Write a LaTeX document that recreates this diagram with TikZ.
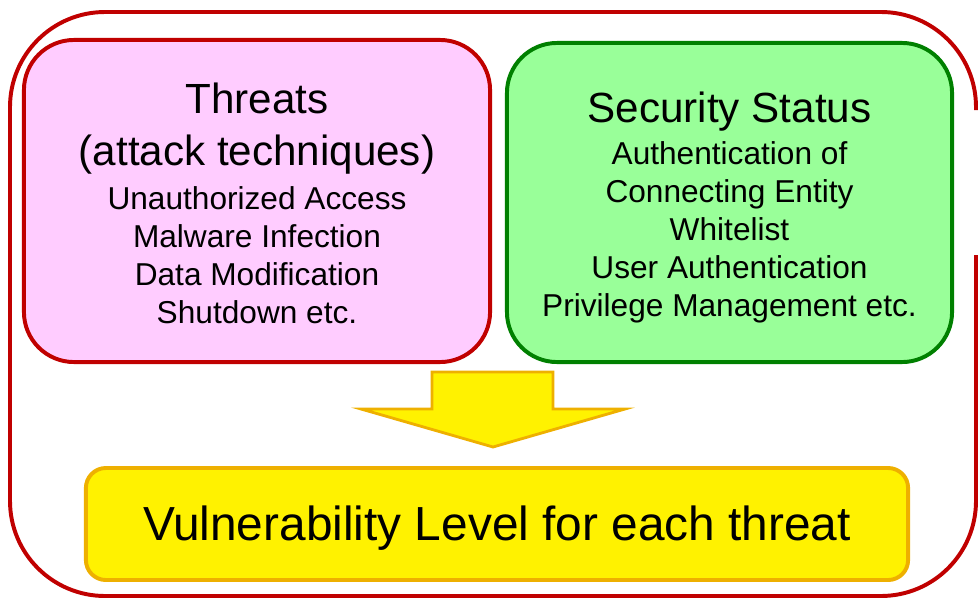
\documentclass[tikz,border=0pt]{standalone}
\usepackage{fontspec}
\setmainfont{Liberation Sans}
\definecolor{framered}{HTML}{C00000}
\definecolor{threatpink}{HTML}{FFCCFF}
\definecolor{statusgreen}{HTML}{99FF99}
\definecolor{statusdark}{HTML}{008000}
\definecolor{levelgold}{HTML}{EEB000}
\newcommand{\headtext}[1]{{\fontsize{30}{37}\selectfont #1}}
\tikzset{
    frame/.style={draw=framered, line width=2.8pt, rounded corners=2.375cm},
    panel/.style={rectangle, rounded corners=1.25cm, line width=2.8pt, align=center, font=\fontsize{22.5}{27}\selectfont},
    levelbox/.style={rectangle, rounded corners=0.5cm, draw=levelgold, fill=yellow, line width=2.8pt, font=\fontsize{34}{40}\selectfont},
    bigarrow/.style={draw=levelgold, fill=yellow, line width=2pt, line join=miter},
}

\begin{document}
\begin{tikzpicture}[x=0.025cm, y=-0.025cm]
\useasboundingbox (0,0) rectangle (980,599);

% ── Outer frame ──
\draw[frame] (976,110) -- (976,12) -- (10,12) -- (10,596) -- (976,596) -- (976,255);

% ── Threats ──
\node[panel, draw=framered, fill=threatpink, minimum width=11.65cm, minimum height=8.05cm] (threats) at (257,201)
    {\headtext{\rule{0pt}{25pt}Threats}\\[10pt] \headtext{(attack techniques)}\\[4pt] Unauthorized Access\\ Malware Infection\\ Data Modification\\ Shutdown etc.};

% ── Security Status ──
\node[panel, draw=statusdark, fill=statusgreen, minimum width=11.125cm, minimum height=7.975cm] (status) at (729.5,202.5)
    {\headtext{\rule{0pt}{29pt}Security Status}\\[3pt] Authentication of\\ Connecting Entity\\ Whitelist\\ User Authentication\\ Privilege Management etc.};

% ── Result ──
\node[levelbox, minimum width=20.55cm, minimum height=2.8cm] (level) at (497,524) {\rule{0pt}{31pt}Vulnerability Level for each threat};

% Block arrow
\draw[bigarrow] (432,372) -- (553,372) -- (553,409) -- (625,409) -- (493,447) -- (361,409) -- (432,409) -- cycle;

\end{tikzpicture}
\end{document}
